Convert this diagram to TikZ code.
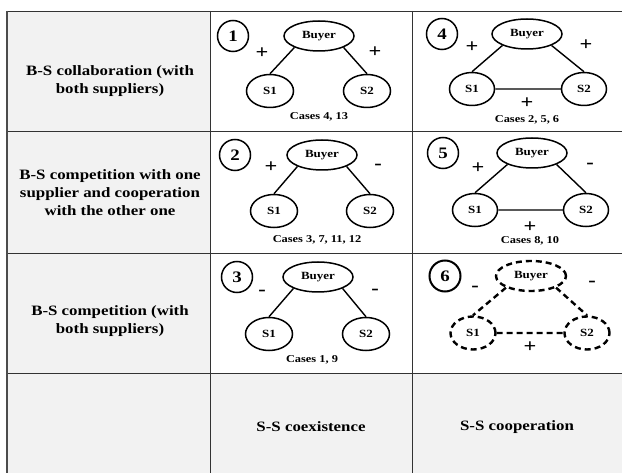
\documentclass[tikz,border=0pt]{standalone}
\usepackage{fontspec}
\setmainfont{Liberation Serif}[FakeStretch=1.18]
\usetikzlibrary{shapes}
\usetikzlibrary{positioning}
\tikzset{
    rowlabel/.style={align=center,font=\bfseries\fontsize{14.3}{18}\selectfont},
    buyer/.style={ellipse,draw=black,line width=1.5pt,minimum width=70pt,minimum height=30pt,inner sep=0pt,font=\bfseries\fontsize{11}{11}\selectfont},
    supplier/.style={ellipse,draw=black,line width=1.5pt,minimum width=47pt,minimum height=33pt,inner sep=0pt,font=\bfseries\fontsize{11}{11}\selectfont},
    casenum/.style={circle,draw=black,line width=1.5pt,minimum size=31pt,inner sep=0pt,font=\bfseries\fontsize{16}{16}\selectfont},
    sign/.style={inner sep=0pt,font=\bfseries\fontsize{19}{19}\selectfont},
    cases/.style={inner sep=0pt,font=\bfseries\fontsize{10.5}{12}\selectfont},
    link/.style={line width=1.4pt},
    coop/.style={line width=2.4pt,dash pattern=on 6pt off 4pt},
}

\begin{document}
\begin{tikzpicture}[x=1pt,y=-1pt,on grid]
\useasboundingbox (0,0) rectangle (622,473);
% table
\fill[gray!10] (7,11) rectangle (210,473);
\fill[gray!10] (210,373) rectangle (622,473);
\draw[line width=0.8pt,black!80] (7,11) -- (622,11) (7,131) -- (622,131) (7,253) -- (622,253) (7,373) -- (622,373);
\draw[line width=0.8pt,black!80] (210,11) -- (210,473) (412,11) -- (412,473);
\draw[line width=1.5pt,black!70] (7,11) -- (7,473);

% row and column labels
\node[rowlabel] (R1) at (110,81) {B-S collaboration (with\\both suppliers)};
\node[rowlabel] (R2) at (110,193) {B-S competition with one\\supplier and cooperation\\with the other one};
\node[rowlabel] (R3) at (110,321) {B-S competition (with\\both suppliers)};
\node[rowlabel] (C1) at (311,427) {S-S coexistence};
\node[rowlabel] (C2) at (517,427) {S-S cooperation};

% case 1
\node[buyer] (B1) at (319,36) {Buyer};
\node[casenum] (N1) [left=86pt of B1] {1};
\node[supplier] (S11) [below left=55pt and 49pt of B1] {S1};
\node[supplier] (S12) [below right=55pt and 48pt of B1] {S2};
\node[sign] (G11) [below left=17pt and 57pt of B1] {+};
\node[sign] (G12) [below right=16pt and 56pt of B1] {+};
\node[cases] (K1) [below=81pt of B1] {Cases 4, 13};
\draw[link] (B1.205) -- (S11.north) (B1.335) -- (S12.north);

% case 2
\node[buyer] (B2) at (322,155) {Buyer};
\node[casenum] (N2) [left=87pt of B2] {2};
\node[supplier] (S21) [below left=56pt and 48pt of B2] {S1};
\node[supplier] (S22) [below right=56pt and 48pt of B2] {S2};
\node[sign] (G21) [below left=12pt and 51pt of B2] {+};
\node[sign] (G22) [below right=12pt and 56pt of B2] {-};
\node[cases] (K2) [below left=85pt and 5pt of B2] {Cases 3, 7, 11, 12};
\draw[link] (B2.205) -- (S21.north) (B2.335) -- (S22.north);

% case 3
\node[buyer] (B3) at (318,277) {Buyer};
\node[casenum] (N3) [left=81pt of B3] {3};
\node[supplier] (S31) [below left=57pt and 49pt of B3] {S1};
\node[supplier] (S32) [below right=57pt and 48pt of B3] {S2};
\node[sign] (G31) [below left=16pt and 56pt of B3] {-};
\node[sign] (G32) [below right=15pt and 57pt of B3] {-};
\node[cases] (K3) [below left=83pt and 6pt of B3] {Cases 1, 9};
\draw[link] (B3.205) -- (S31.north) (B3.335) -- (S32.north);

% case 4
\node[buyer] (B4) at (527,34) {Buyer};
\node[casenum] (N4) [left=85pt of B4] {4};
\node[supplier,minimum width=45pt] (S41) [below left=55pt and 55pt of B4] {S1};
\node[supplier,minimum width=45pt] (S42) [below right=55pt and 57pt of B4] {S2};
\node[sign] (G41) [below left=13pt and 55pt of B4] {+};
\node[sign] (G42) [below right=11pt and 59pt of B4] {+};
\node[sign] (G43) [below=69pt of B4] {+};
\node[cases] (K4) [below=86pt of B4] {Cases 2, 5, 6};
\draw[link] (B4.205) -- (S41.north) (B4.335) -- (S42.north) (S41) -- (S42);

% case 5
\node[buyer] (B5) at (532,153) {Buyer};
\node[casenum] (N5) [left=89pt of B5] {5};
\node[supplier,minimum width=45pt] (S51) [below left=57pt and 57pt of B5] {S1};
\node[supplier,minimum width=45pt] (S52) [below right=57pt and 54pt of B5] {S2};
\node[sign] (G51) [below left=15pt and 54pt of B5] {+};
\node[sign] (G52) [below right=13pt and 58pt of B5] {-};
\node[sign] (G53) [below left=74pt and 2pt of B5] {+};
\node[cases] (K5) [below left=88pt and 2pt of B5] {Cases 8, 10};
\draw[link] (B5.205) -- (S51.north) (B5.335) -- (S52.north) (S51) -- (S52);

% case 6
\node[buyer,coop] (B6) at (531,276) {Buyer};
\node[casenum,line width=2pt] (N6) [left=86pt of B6] {6};
\node[supplier,coop,minimum width=45pt] (S61) [below left=57pt and 58pt of B6] {S1};
\node[supplier,coop,minimum width=45pt] (S62) [below right=57pt and 56pt of B6] {S2};
\node[sign] (G61) [below left=13pt and 56pt of B6] {-};
\node[sign] (G62) [below right=8pt and 61pt of B6] {-};
\node[sign] (G63) [below left=71pt and 1pt of B6] {+};
\draw[coop] (B6.205) -- (S61.north) (B6.335) -- (S62.north) (S61) -- (S62);
\end{tikzpicture}
\end{document}
